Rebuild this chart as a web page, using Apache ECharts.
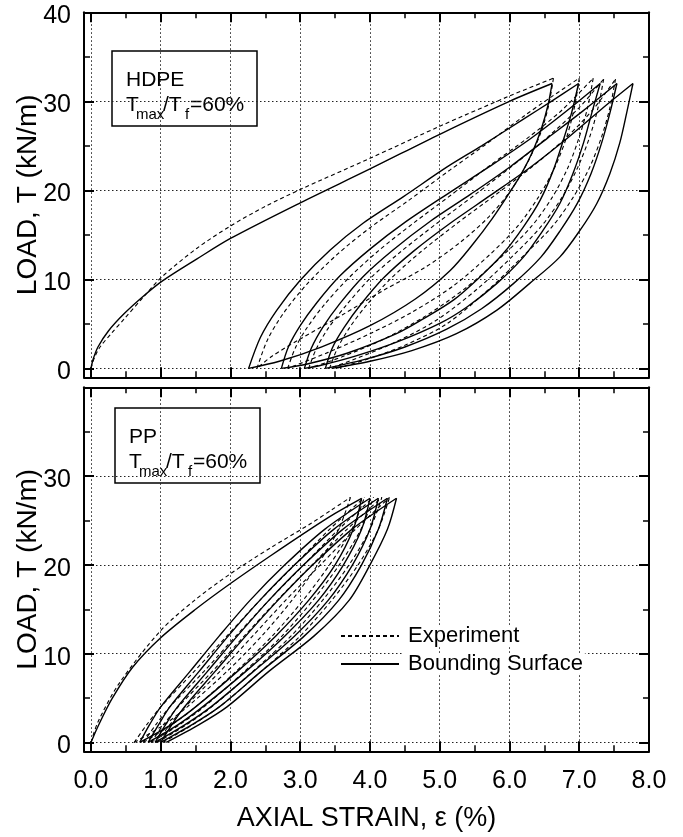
<!DOCTYPE html>
<html>
<head>
<meta charset="utf-8">
<title>HDPE / PP cyclic load-strain</title>
<script src="https://cdn.jsdelivr.net/npm/echarts@6/dist/echarts.min.js"></script>
<style>
  html, body { margin: 0; background: #fff; }
  #chart { width: 683px; height: 837px; }
</style>
</head>
<body>
<div id="chart"></div>
<script>
// axis ranges and tick labels
const xMin = -0.1, xMax = 8;
const yMin = -1, yMax = 40;
const xTickLabels = ['0.0', '1.0', '2.0', '3.0', '4.0', '5.0', '6.0', '7.0', '8.0'];
const hdpeYTickLabels = ['0', '10', '20', '30', '40'];
const ppYTickLabels = ['0', '10', '20', '30'];

// HDPE, bounding surface model (solid)  [strain %, load kN/m]
const hdpeModelLoad = [[0, 0], [0.03, 1.0], [0.1, 2.4], [0.25, 4.2], [0.47, 6.1], [0.75, 8.1], [1.02, 9.8], [1.52, 12.3], [2.0, 14.6], [3.0, 18.6], [4.0, 22.4], [5.0, 26.3], [6.0, 30.0], [6.61, 32.0]];
const hdpeModelUnload = [
  [[6.61, 32], [6.55, 29.5], [6.46, 27.0], [6.34, 24.5], [6.18, 22.0], [5.98, 19.5], [5.75, 16.8], [5.48, 14.0], [5.15, 11.0], [4.65, 7.8], [4.0, 4.8], [3.3, 2.4], [2.7, 0.8], [2.26, 0]],
  [[6.99, 32], [6.89, 28.7], [6.77, 25.6], [6.63, 22.3], [6.44, 18.9], [6.2, 15.9], [5.91, 12.9], [5.58, 10.3], [5.2, 7.7], [4.75, 5.5], [4.38, 3.9], [3.67, 1.7], [3.1, 0.5], [2.73, 0]],
  [[7.3, 32], [7.18, 28.7], [7.06, 25.3], [6.91, 21.9], [6.72, 18.5], [6.48, 15.5], [6.2, 12.5], [5.82, 9.55], [5.39, 6.9], [5.0, 5.05], [4.4, 3.0], [3.8, 1.4], [3.3, 0.35], [3.06, 0]],
  [[7.54, 32], [7.44, 28.7], [7.32, 25.3], [7.17, 21.9], [6.97, 18.5], [6.73, 15.5], [6.45, 12.5], [6.06, 9.55], [5.6, 6.7], [5.1, 4.4], [4.5, 2.4], [3.9, 0.95], [3.36, 0]],
  [[7.77, 32], [7.68, 28.7], [7.58, 25.3], [7.44, 21.9], [7.25, 18.5], [7.01, 15.5], [6.72, 12.5], [6.29, 9.55], [5.82, 6.55], [5.24, 3.9], [4.6, 2.0], [4.0, 0.8], [3.45, 0]]
];
const hdpeModelReload = [
  [[2.26, 0], [2.43, 3.5], [2.66, 6.5], [3.0, 9.9], [3.43, 13.3], [3.9, 16.3], [4.48, 19.3], [5.1, 22.6], [5.6, 25.0], [6.2, 28.0], [6.6, 30.0], [6.99, 32]],
  [[2.73, 0], [2.83, 2.4], [3.0, 4.8], [3.24, 7.4], [3.57, 10.4], [4.0, 13.4], [4.5, 16.4], [5.15, 19.8], [5.7, 22.6], [6.3, 25.8], [6.8, 28.8], [7.3, 32]],
  [[3.06, 0], [3.16, 2.3], [3.33, 4.7], [3.57, 7.3], [3.9, 10.3], [4.33, 13.3], [4.86, 16.5], [5.45, 19.6], [6.0, 22.6], [6.55, 25.9], [7.05, 28.9], [7.54, 32]],
  [[3.36, 0], [3.46, 2.3], [3.63, 4.6], [3.87, 7.2], [4.2, 10.2], [4.63, 13.2], [5.15, 16.3], [5.72, 19.4], [6.3, 22.6], [6.85, 26.0], [7.33, 29.2], [7.77, 32]]
];

// HDPE, experiment (dashed)
const hdpeTestLoad = [[0, 0], [0.05, 1.2], [0.13, 2.4], [0.3, 4.0], [0.47, 5.5], [0.75, 8.0], [1.02, 10.3], [1.52, 13.5], [2.0, 16.0], [2.5, 18.2], [3.0, 20.1], [4.0, 23.6], [5.0, 27.2], [6.0, 30.6], [6.63, 32.6]];
const hdpeTestUnload = [
  [[6.63, 32.6], [6.56, 29.5], [6.45, 26.5], [6.27, 23.3], [6.02, 20.0], [5.7, 17.0], [5.3, 14.2], [4.8, 11.4], [4.2, 8.8], [3.6, 6.0], [3.0, 3.3], [2.6, 1.4], [2.38, 0]],
  [[7.0, 32.6], [6.93, 29.3], [6.82, 26.0], [6.65, 22.6], [6.42, 19.3], [6.12, 16.0], [5.72, 12.8], [5.2, 9.3], [4.6, 6.3], [4.0, 3.9], [3.4, 1.8], [2.82, 0]],
  [[7.2, 32.6], [7.12, 29.3], [7.0, 26.0], [6.84, 22.6], [6.62, 19.3], [6.32, 16.0], [5.92, 12.8], [5.4, 9.2], [4.8, 5.9], [4.2, 3.3], [3.6, 1.3], [3.12, 0]],
  [[7.35, 32.5], [7.27, 29.3], [7.15, 26.0], [6.98, 22.6], [6.76, 19.3], [6.46, 16.0], [6.07, 12.8], [5.55, 9.0], [4.95, 5.4], [4.35, 2.9], [3.8, 1.1], [3.42, 0]],
  [[7.52, 32.5], [7.44, 29.3], [7.32, 26.0], [7.15, 22.6], [6.92, 19.3], [6.62, 16.0], [6.22, 12.8], [5.72, 9.0], [5.1, 5.0], [4.5, 2.6], [3.95, 1.0], [3.52, 0]]
];
const hdpeTestReload = [
  [[2.38, 0], [2.53, 3.2], [2.76, 6.2], [3.1, 9.5], [3.53, 12.8], [4.0, 15.8], [4.56, 18.9], [5.15, 22.3], [5.65, 25.1], [6.2, 28.3], [6.6, 30.5], [7.0, 32.6]],
  [[2.82, 0], [2.93, 2.3], [3.1, 4.6], [3.35, 7.2], [3.7, 10.2], [4.12, 13.2], [4.62, 16.3], [5.2, 19.7], [5.72, 22.8], [6.28, 26.0], [6.75, 29.0], [7.2, 32.6]],
  [[3.12, 0], [3.23, 2.2], [3.4, 4.5], [3.66, 7.1], [4.0, 10.1], [4.44, 13.1], [4.96, 16.3], [5.52, 19.6], [6.05, 22.8], [6.55, 26.0], [7.0, 29.3], [7.35, 32.5]],
  [[3.42, 0], [3.53, 2.2], [3.7, 4.5], [3.95, 7.1], [4.3, 10.1], [4.73, 13.1], [5.25, 16.3], [5.8, 19.5], [6.35, 22.8], [6.85, 26.2], [7.22, 29.3], [7.52, 32.5]]
];

// PP, first loading
const ppModelLoad = [[0, 0], [0.1, 1.8], [0.3, 4.9], [0.6, 8.5], [1.0, 11.8], [1.5, 15.0], [2.0, 17.9], [2.57, 21.0], [3.14, 24.0], [3.5, 25.8], [3.88, 27.5]];
const ppTestLoad = [[0, 0], [0.1, 2.3], [0.4, 6.6], [1.0, 12.6], [1.5, 16.1], [2.0, 19.0], [2.57, 21.9], [3.14, 24.6], [3.45, 26.2], [3.72, 27.6]];

// PP cycles: strain read at these load levels
const ppModelLevels = [0, 2, 4, 8, 12, 16, 20, 24, 27.5];
const ppTestLevels = [0, 2, 4, 8, 12, 16, 20, 24, 27.6];
const ppModelUnloadX = [
  [0.7, 1.15, 1.5, 2.1, 2.65, 3.12, 3.5, 3.76, 3.88],
  [0.82, 1.25, 1.6, 2.22, 2.78, 3.26, 3.62, 3.88, 4.0],
  [0.92, 1.35, 1.72, 2.33, 2.92, 3.4, 3.75, 4.0, 4.12],
  [1.0, 1.45, 1.84, 2.44, 3.06, 3.55, 3.88, 4.12, 4.25],
  [1.08, 1.55, 1.95, 2.55, 3.2, 3.7, 4.0, 4.25, 4.38]
];
const ppModelReloadX = [
  [0.7, 0.84, 1.0, 1.42, 1.84, 2.28, 2.78, 3.35, 4.0],
  [0.82, 0.97, 1.13, 1.55, 1.97, 2.42, 2.92, 3.48, 4.12],
  [0.92, 1.07, 1.24, 1.67, 2.1, 2.55, 3.05, 3.61, 4.25],
  [1.0, 1.16, 1.34, 1.78, 2.22, 2.68, 3.18, 3.74, 4.38]
];
const ppTestUnloadX = [
  [0.62, 1.05, 1.38, 1.95, 2.45, 2.88, 3.25, 3.55, 3.72],
  [0.75, 1.16, 1.5, 2.08, 2.6, 3.04, 3.42, 3.74, 3.92],
  [0.86, 1.27, 1.62, 2.2, 2.74, 3.18, 3.56, 3.87, 4.05],
  [0.95, 1.37, 1.73, 2.32, 2.87, 3.32, 3.7, 4.0, 4.17],
  [1.03, 1.46, 1.84, 2.44, 3.0, 3.45, 3.83, 4.12, 4.28]
];
const ppTestReloadX = [
  [0.62, 0.8, 1.0, 1.48, 1.95, 2.42, 2.92, 3.42, 3.92],
  [0.75, 0.93, 1.13, 1.62, 2.08, 2.55, 3.05, 3.55, 4.05],
  [0.86, 1.04, 1.25, 1.74, 2.2, 2.67, 3.17, 3.67, 4.17],
  [0.95, 1.13, 1.35, 1.85, 2.32, 2.79, 3.29, 3.79, 4.28]
];

const FONT = '"Liberation Sans", Arial, Helvetica, sans-serif';
const grids = [
  { left: 84, top: 12.3, width: 565, height: 365 },
  { left: 84, top: 387.3, width: 565, height: 364 }
];

const xLabelFmt = (v) => (v < 0 ? '' : (xTickLabels[Math.round(v)] || ''));
const yLabelFmt = (labels) => (v) => {
  const s = v < 0 ? '' : (labels[Math.round(v / 10)] || '');
  return s ? '{v|' + s + '}' : '';
};

function makeX(grid, pos, minor, withLabels) {
  return {
    type: 'value', gridIndex: grid, position: pos, min: xMin, max: xMax,
    splitNumber: minor ? 16 : 8,
    axisLine: { show: !minor, onZero: false, lineStyle: { color: '#000', width: 2 } },
    axisTick: { show: true, inside: true, length: minor ? 6 : 10, lineStyle: { color: '#000', width: minor ? 1.5 : 2 } },
    axisLabel: {
      show: withLabels, formatter: xLabelFmt, color: '#000',
      fontSize: 25, fontFamily: FONT, margin: 17
    },
    splitLine: { show: !minor && pos === 'bottom', lineStyle: { color: '#222', width: 1, type: [1.5, 2.5] } },
    silent: true
  };
}

function makeY(grid, pos, minor, labels) {
  return {
    type: 'value', gridIndex: grid, position: pos, min: yMin, max: yMax,
    splitNumber: minor ? 8 : 4,
    axisLine: { show: !minor, onZero: false, lineStyle: { color: '#000', width: 2 } },
    axisTick: { show: true, inside: true, length: minor ? 6 : 10, lineStyle: { color: '#000', width: minor ? 1.5 : 2 } },
    axisLabel: {
      show: !!labels, formatter: labels ? yLabelFmt(labels) : null, margin: 13,
      rich: { v: { color: '#000', fontSize: 25, fontFamily: FONT, padding: [8, 0, 0, 0] } }
    },
    splitLine: { show: !minor && pos === 'left', lineStyle: { color: '#222', width: 1, type: [1.5, 2.5] } },
    silent: true
  };
}

// first two of each list are the axes the series use
const xAxes = [makeX(0, 'bottom', false, false), makeX(1, 'bottom', false, true)];
const yAxes = [makeY(0, 'left', false, hdpeYTickLabels), makeY(1, 'left', false, ppYTickLabels)];
[0, 1].forEach((g) => {
  xAxes.push(makeX(g, 'bottom', true, false), makeX(g, 'top', false, false), makeX(g, 'top', true, false));
  yAxes.push(makeY(g, 'left', true, null), makeY(g, 'right', false, null), makeY(g, 'right', true, null));
});

Object.assign(xAxes[1], {
  name: 'AXIAL STRAIN, \u03b5 (%)', nameLocation: 'middle', nameGap: 54, nameMoveOverlap: false,
  nameTextStyle: { color: '#000', fontSize: 27, fontFamily: FONT }
});
[0, 1].forEach((i) => {
  Object.assign(yAxes[i], {
    name: 'LOAD, T (kN/m)', nameLocation: 'middle', nameGap: 42, nameMoveOverlap: false,
    nameTextStyle: { color: '#000', fontSize: 28, fontFamily: FONT }
  });
});

const series = [];
function addBranch(points, panel, dashed) {
  series.push({
    type: 'line',
    name: dashed ? 'Experiment' : 'Bounding Surface',
    xAxisIndex: panel, yAxisIndex: panel,
    data: points,
    symbol: 'none', showSymbol: false,
    smooth: 0.3,
    silent: true,
    itemStyle: { color: '#000' },
    lineStyle: { color: '#000', width: dashed ? 1.1 : 1.4, type: dashed ? [4, 3] : 'solid' }
  });
}
const atLevels = (xs, levels) => xs.map((x, i) => [x, levels[i]]);

addBranch(hdpeTestLoad, 0, true);
addBranch(hdpeModelLoad, 0, false);
hdpeTestUnload.forEach((b) => addBranch(b, 0, true));
hdpeTestReload.forEach((b) => addBranch(b, 0, true));
hdpeModelUnload.forEach((b) => addBranch(b, 0, false));
hdpeModelReload.forEach((b) => addBranch(b, 0, false));

addBranch(ppTestLoad, 1, true);
addBranch(ppModelLoad, 1, false);
ppTestUnloadX.forEach((b) => addBranch(atLevels(b, ppTestLevels), 1, true));
ppTestReloadX.forEach((b) => addBranch(atLevels(b, ppTestLevels), 1, true));
ppModelUnloadX.forEach((b) => addBranch(atLevels(b, ppModelLevels), 1, false));
ppModelReloadX.forEach((b) => addBranch(atLevels(b, ppModelLevels), 1, false));

function labelBox(x, y, title) {
  const t = (text, dx, dy, size) => ({
    type: 'text', x: dx, y: dy,
    style: { text, fill: '#000', fontSize: size, fontFamily: FONT, align: 'left', verticalAlign: 'middle' }
  });
  return {
    type: 'group', x, y, z: 100,
    children: [
      { type: 'rect', shape: { x: 0, y: 0, width: 145, height: 75 }, style: { fill: '#fff', stroke: '#000', lineWidth: 1.5 } },
      t(title, 14, 29.5, 21),
      t('T', 14, 53.8, 21),
      t('max', 24, 63.5, 15),
      t('/T', 51, 53.8, 21),
      t('f', 73, 63.5, 15),
      t('=60%', 78, 53.8, 21)
    ]
  };
}

const chart = echarts.init(document.getElementById('chart'));
chart.setOption({
  animation: false,
  backgroundColor: '#fff',
  grid: grids,
  xAxis: xAxes,
  yAxis: yAxes,
  legend: {
    data: ['Experiment', 'Bounding Surface'],
    orient: 'vertical',
    left: 340, top: 625, padding: 0,
    itemWidth: 58, itemHeight: 14, itemGap: 6,
    selectedMode: false,
    itemStyle: { opacity: 0 },
    textStyle: { color: '#000', fontSize: 22, fontFamily: FONT, backgroundColor: '#fff', padding: [0, 2, 0, 4] }
  },
  graphic: [labelBox(112, 51, 'HDPE'), labelBox(115, 408, 'PP')],
  series
});
</script>
</body>
</html>
